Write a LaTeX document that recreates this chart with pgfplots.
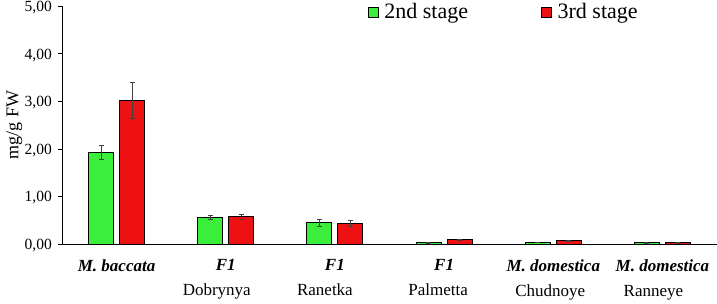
\documentclass[border=0pt]{standalone}
\usepackage{pgfplots}
\pgfplotsset{compat=1.18}
\usepackage{fontspec}
\setmainfont{Liberation Serif}
\definecolor{barg}{HTML}{3CEE3C}
\definecolor{barr}{HTML}{EE1111}
\begin{document}
\begin{tikzpicture}[x=1pt,y=1pt]
\useasboundingbox (-62,-59) rectangle (655,244);
\begin{axis}[
  at={(0,0)}, anchor=south west,
  scale only axis, width=655pt, height=238pt,
  xmin=-0.5, xmax=5.5, ymin=0, ymax=5,
  axis x line*=bottom, axis y line*=left,
  axis line style={-, line width=0.6pt},
  ybar=6pt, bar width=25pt,
  ytick={0,1,2,3,4,5},
  yticklabel style={font=\fontsize{15.5}{17}\selectfont, inner sep=0pt, xshift=-6pt, yshift=-1.5pt, /pgf/number format/.cd, use comma, fixed, fixed zerofill, precision=2, assume math mode=true},
  ytick style={line width=0.5pt, black},
  tick align=outside, major tick length=4pt,
  xtick={0,1,2,3,4,5},
  xtick style={draw=none},
  xticklabels={{\textbf{\textit{M. baccata}}},
    {\textbf{\textit{F1}}\\Dobrynya\hspace*{18pt}},
    {\textbf{\textit{F1}}\\Ranetka\hspace*{20pt}},
    {\textbf{\textit{F1}}\\Palmetta\hspace*{12pt}},
    {\textbf{\textit{M. domestica}}\\Chudnoye\hspace*{6pt}},
    {\textbf{\textit{M. domestica}}\\Ranneye\hspace*{18pt}}},
  xticklabel style={align=center, font=\fontsize{17}{25}\selectfont, anchor=north, yshift=-8pt},
  ylabel={mg/g FW},
  ylabel style={font=\fontsize{18}{20}\selectfont, yshift=-1pt},
  legend columns=2,
  legend style={draw=none, fill=none, at={(0.4665,0.975)}, anchor=west, font=\fontsize{22}{24}\selectfont, inner sep=0pt,
    /tikz/every odd column/.append style={column sep=4pt},
    /tikz/every even column/.append style={column sep=71pt}},
  legend image code/.code={\draw[#1, draw=black, line width=0.6pt] (0pt,-5pt) rectangle (10pt,5pt);},
  error bars/y dir=both, error bars/y explicit,
  error bars/error bar style={line width=0.5pt, black!75},
  error bars/error mark options={rotate=90, mark size=2.5pt, line width=0.5pt, black!75},
]
\addplot[fill=barg, draw=black, line width=1pt] coordinates {
  (0,1.93) +- (0,0.15)
  (1,0.56) +- (0,0.04)
  (2,0.45) +- (0,0.07)
  (3,0.03) +- (0,0.005)
  (4,0.04) +- (0,0.005)
  (5,0.03) +- (0,0.005)
};
\addplot[fill=barr, draw=black, line width=1pt] coordinates {
  (0,3.02) +- (0,0.38)
  (1,0.57) +- (0,0.05)
  (2,0.44) +- (0,0.06)
  (3,0.09) +- (0,0.02)
  (4,0.07) +- (0,0.01)
  (5,0.03) +- (0,0.005)
};
\legend{2nd stage, 3rd stage}
\end{axis}
\end{tikzpicture}
\end{document}
